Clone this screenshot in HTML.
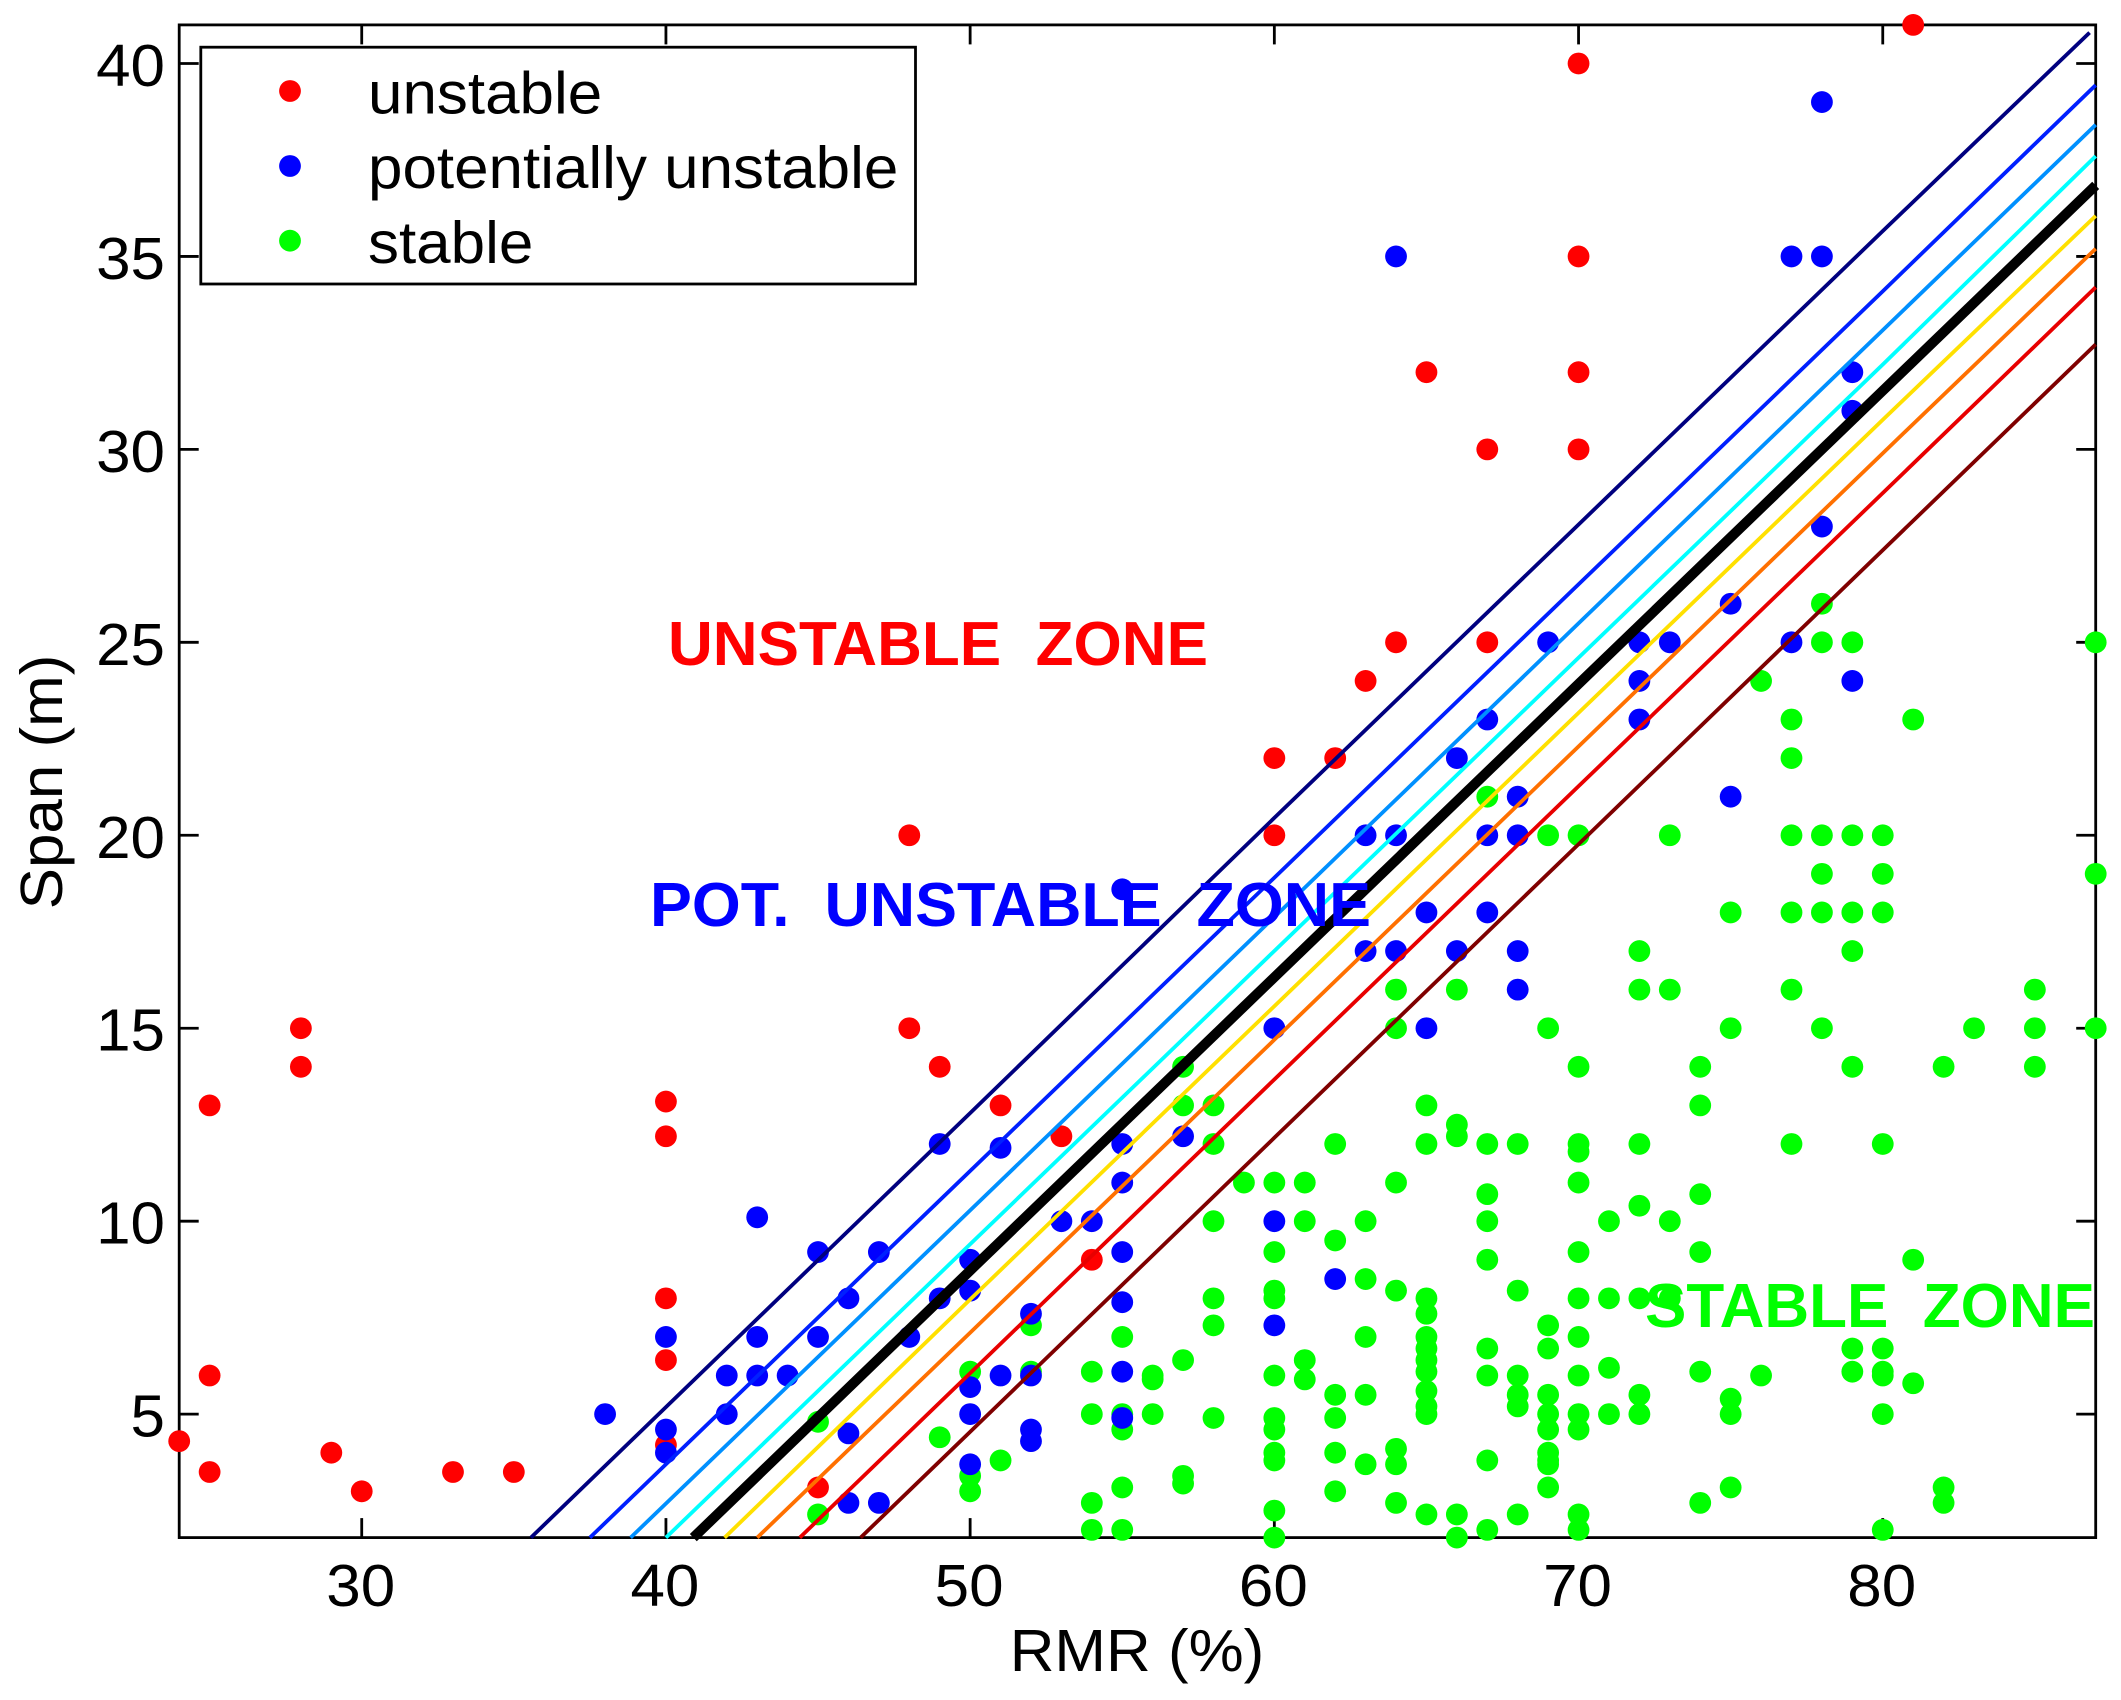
<!DOCTYPE html>
<html lang="en">
<head>
<meta charset="utf-8">
<title>Span vs RMR stability chart</title>
<style>
html,body{margin:0;padding:0;background:#fff;}
svg{display:block;}
text{font-family:"Liberation Sans",sans-serif;white-space:pre;}
</style>
</head>
<body>
<svg id="chart" xmlns="http://www.w3.org/2000/svg" width="2121" height="1700" viewBox="0 0 2121 1700"></svg>
<script>
const xTickLabels = [30, 40, 50, 60, 70, 80];
const yTickLabels = [5, 10, 15, 20, 25, 30, 35, 40];

const unstableRmr = [24, 25, 25, 25, 28, 28, 29, 30, 33, 35, 40, 40, 40, 40, 40, 45, 48, 48, 49, 51, 53, 54, 60, 60, 62, 63, 64, 65, 67, 67, 70, 70, 70, 70, 81];
const unstableSpan = [4.3, 3.5, 6, 13, 14, 15, 4, 3, 3.5, 3.5, 4.2, 6.4, 8, 12.2, 13.1, 3.1, 15, 20, 14, 13, 12.2, 9, 20, 22, 22, 24, 25, 32, 25, 30, 30, 32, 35, 40, 41];

const potentialRmr = [38, 40, 40, 40, 42, 42, 43, 43, 43, 44, 45, 45, 46, 46, 46, 47, 47, 48, 49, 49, 50, 50, 50, 50, 50, 51, 51, 52, 52, 52, 52, 53, 54, 55, 55, 55, 55, 55, 55, 55, 57, 60, 60, 60, 62, 63, 63, 64, 64, 64, 65, 65, 66, 66, 67, 67, 67, 68, 68, 68, 68, 69, 72, 72, 72, 73, 75, 75, 77, 77, 78, 78, 78, 79, 79, 79];
const potentialSpan = [5, 4.6, 4, 7, 6, 5, 10.1, 7, 6, 6, 9.2, 7, 8, 4.5, 2.7, 9.2, 2.7, 7, 12, 8, 9, 8.2, 5.7, 5, 3.7, 11.9, 6, 7.6, 6, 4.6, 4.3, 10, 10, 12, 11, 9.2, 7.9, 6.1, 4.9, 18.6, 12.2, 15, 10, 7.3, 8.5, 17, 20, 17, 20, 35, 18, 15, 17, 22, 23, 20, 18, 21, 20, 17, 16, 25, 25, 24, 23, 25, 26, 21, 35, 25, 39, 35, 28, 32, 31, 24];

const stableRmr = [
  45, 45, 49, 50, 50, 50, 51, 52, 52,
  67, 78, 78, 79, 87, 76, 77, 81, 77,
  69, 70, 73, 77, 78, 79, 80,
  78, 80, 87,
  75, 77, 78, 79, 80,
  72, 79,
  64, 66, 72, 73, 77, 85,
  64, 69, 75, 78, 83, 85, 87,
  57, 70, 74, 79, 82, 85,
  57, 58, 65, 74,
  66, 66,
  58, 62, 65, 67, 68, 70, 72, 77, 80, 70,
  59, 60, 61, 64, 70,
  67, 74, 72,
  58, 61, 63, 67, 71, 73,
  62, 60, 70, 74, 67, 81,
  63, 60, 64, 68,
  58, 60, 65, 70, 71, 72, 73,
  65, 58, 69, 55, 63, 65, 70,
  67, 69, 65, 79, 80,
  57, 61, 65,
  71, 54, 74, 79, 80, 65,
  56, 60, 67, 68, 70, 76, 80,
  56, 61, 81, 65,
  62, 63, 68, 69, 72, 75,
  65, 68,
  54, 56, 65, 69, 70, 71, 72, 75, 80,
  58, 62, 60, 55,
  55, 60, 69, 70,
  64, 62, 60, 69,
  67, 60, 69, 63, 64, 69,
  57, 57, 55, 69, 75, 82, 62,
  54, 64, 74, 82, 60,
  65, 66, 68, 70,
  54, 55, 67, 70, 80,
  60, 66
];
const stableSpan = [
  4.8, 2.4, 4.4, 6.1, 3.4, 3, 3.8, 7.3, 6.1,
  21, 26, 25, 25, 25, 24, 23, 23, 22,
  20, 20, 20, 20, 20, 20, 20,
  19, 19, 19,
  18, 18, 18, 18, 18,
  17, 17,
  16, 16, 16, 16, 16, 16,
  15, 15, 15, 15, 15, 15, 15,
  14, 14, 14, 14, 14, 14,
  13, 13, 13, 13,
  12.5, 12.2,
  12, 12, 12, 12, 12, 12, 12, 12, 12, 11.8,
  11, 11, 11, 11, 11,
  10.7, 10.7, 10.4,
  10, 10, 10, 10, 10, 10,
  9.5, 9.2, 9.2, 9.2, 9, 9,
  8.5, 8.2, 8.2, 8.2,
  8, 8, 8, 8, 8, 8, 8,
  7.6, 7.3, 7.3, 7, 7, 7, 7,
  6.7, 6.7, 6.7, 6.7, 6.7,
  6.4, 6.4, 6.4,
  6.2, 6.1, 6.1, 6.1, 6.1, 6.1,
  6, 6, 6, 6, 6, 6, 6,
  5.9, 5.9, 5.8, 5.6,
  5.5, 5.5, 5.5, 5.5, 5.5, 5.4,
  5.2, 5.2,
  5, 5, 5, 5, 5, 5, 5, 5, 5,
  4.9, 4.9, 4.9, 5,
  4.6, 4.6, 4.6, 4.6,
  4.1, 4, 4, 4,
  3.8, 3.8, 3.8, 3.7, 3.7, 3.7,
  3.4, 3.2, 3.1, 3.1, 3.1, 3.1, 3,
  2.7, 2.7, 2.7, 2.7, 2.5,
  2.4, 2.4, 2.4, 2.4,
  2, 2, 2, 2, 2,
  1.8, 1.8
];

const navyRmr = [35.56, 50, 60, 70, 80, 86.8];
const navySpan = [1.8, 12.8, 20.45, 28.05, 35.66, 40.8];
const blueRmr = [37.5, 50, 60, 70, 80, 87];
const blueSpan = [1.8, 11.3, 18.9, 26.5, 34.1, 39.44];
const azureRmr = [38.84, 50, 60, 70, 80, 87];
const azureSpan = [1.8, 10.28, 17.88, 25.49, 33.09, 38.41];
const cyanRmr = [40, 50, 60, 70, 80, 87];
const cyanSpan = [1.8, 9.4, 17, 24.6, 32.2, 37.6];
const blackRmr = [40.9, 50, 60, 70, 80, 87];
const blackSpan = [1.8, 8.72, 16.32, 23.92, 31.52, 36.84];
const yellowRmr = [41.93, 50, 60, 70, 80, 87];
const yellowSpan = [1.8, 7.97, 15.57, 23.17, 30.77, 36.05];
const orangeRmr = [43, 50, 60, 70, 80, 87];
const orangeSpan = [1.8, 7.11, 14.7, 22.3, 29.9, 35.2];
const redRmr = [44.4, 50, 60, 70, 80, 87];
const redSpan = [1.8, 6.06, 13.67, 21.27, 28.87, 34.2];
const maroonRmr = [46.4, 50, 60, 70, 80, 87];
const maroonSpan = [1.8, 4.54, 12.16, 19.77, 27.39, 32.72];

const NS = 'http://www.w3.org/2000/svg';
const svg = document.getElementById('chart');
const plotLeft = 179.2, plotRight = 2095.7, plotTop = 24.9, plotBottom = 1537.6;
const xMin = 24, xMax = 87, yMin = 1.8, yMax = 41;
const dotRadius = 10.9;
const labelFont = 59;
const labelStretch = 1.05;

function xScale(v) { return plotLeft + (v - xMin) * (plotRight - plotLeft) / (xMax - xMin); }
function yScale(v) { return plotBottom - (v - yMin) * (plotBottom - plotTop) / (yMax - yMin); }

function make(tag, attrs, parent) {
  const el = document.createElementNS(NS, tag);
  for (const k in attrs) el.setAttribute(k, attrs[k]);
  (parent || svg).appendChild(el);
  return el;
}

function stretched(x, y) { return 'translate(' + x + ' ' + y + ') scale(' + labelStretch + ' 1)'; }

/* axes frame */
const frame = make('rect', { x: plotLeft, y: plotTop, width: plotRight - plotLeft, height: plotBottom - plotTop, fill: 'none', stroke: '#000', 'stroke-width': 2.8 });



/* x ticks */
xTickLabels.forEach(function (t) {
  const x = xScale(t);
  const tickB = make('line', { x1: x, x2: x, y1: plotBottom, y2: plotBottom - 19.5, stroke: '#000', 'stroke-width': 2.8 });
  
  
  const tickT = make('line', { x1: x, x2: x, y1: plotTop, y2: plotTop + 19.5, stroke: '#000', 'stroke-width': 2.8 });
  
  
  const lab = make('text', { transform: stretched(x - 1, 1606), 'text-anchor': 'middle', 'font-size': labelFont, fill: '#000' });
  lab.textContent = String(t);
  
  
});

/* y ticks */
yTickLabels.forEach(function (t) {
  const y = yScale(t);
  const tickL = make('line', { x1: plotLeft, x2: plotLeft + 19.5, y1: y, y2: y, stroke: '#000', 'stroke-width': 2.8 });
  
  
  const tickR = make('line', { x1: plotRight, x2: plotRight - 19.5, y1: y, y2: y, stroke: '#000', 'stroke-width': 2.8 });
  
  
  const lab = make('text', { transform: stretched(165, y + 22.5), 'text-anchor': 'end', 'font-size': labelFont, fill: '#000' });
  lab.textContent = String(t);
  
  
});

/* axis titles */
const xTitle = make('text', { transform: stretched(1137, 1671), 'text-anchor': 'middle', 'font-size': labelFont, fill: '#000' });
xTitle.textContent = 'RMR (%)';


const yTitle = make('text', { transform: 'translate(62 782) rotate(-90) scale(' + labelStretch + ' 1)', 'text-anchor': 'middle', 'font-size': labelFont, fill: '#000' });
yTitle.textContent = 'Span (m)';



/* points */
function drawDots(rmr, span, color, name) {
  rmr.forEach(function (r, i) {
    const d = make('circle', { cx: xScale(r), cy: yScale(span[i]), r: dotRadius, fill: color });
    
    
  });
}
drawDots(stableRmr, stableSpan, '#00ff00', 'stable-point');
drawDots(unstableRmr, unstableSpan, '#ff0000', 'unstable-point');
drawDots(potentialRmr, potentialSpan, '#0000ff', 'potentially-unstable-point');

/* stability limit lines */
function drawLine(rmr, span, color, width, name) {
  const pts = rmr.map(function (r, i) { return xScale(r).toFixed(1) + ',' + yScale(span[i]).toFixed(1); }).join(' ');
  const l = make('polyline', { points: pts, fill: 'none', stroke: color, 'stroke-width': width, 'stroke-linejoin': 'round' });
  
  
}
drawLine(navyRmr, navySpan, '#00007f', 3.8, 'limit-line-navy');
drawLine(blueRmr, blueSpan, '#0020ff', 3.8, 'limit-line-blue');
drawLine(azureRmr, azureSpan, '#0090ff', 3.8, 'limit-line-azure');
drawLine(cyanRmr, cyanSpan, '#00ffff', 3.8, 'limit-line-cyan');
drawLine(yellowRmr, yellowSpan, '#ffe000', 3.8, 'limit-line-yellow');
drawLine(orangeRmr, orangeSpan, '#ff7000', 3.8, 'limit-line-orange');
drawLine(redRmr, redSpan, '#e80000', 3.8, 'limit-line-red');
drawLine(maroonRmr, maroonSpan, '#7f0000', 3.8, 'limit-line-maroon');
drawLine(blackRmr, blackSpan, '#000000', 10, 'limit-line-black');

/* zone labels */
function zone(txt, x, y, w, color, name) {
  const t = make('text', { x: x, y: y, 'font-size': 62, 'font-weight': 'bold', fill: color, textLength: w, lengthAdjust: 'spacingAndGlyphs' });
  t.setAttribute('xml:space', 'preserve');
  t.textContent = txt;
  
  
}
zone('UNSTABLE  ZONE', 668, 665, 540, '#ff0000', 'unstable-zone-label');
zone('POT.  UNSTABLE  ZONE', 650, 926, 721, '#0000ff', 'potentially-unstable-zone-label');
zone('STABLE  ZONE', 1645, 1327, 450, '#00ff00', 'stable-zone-label');

/* legend */
const legendBox = make('rect', { x: 200.8, y: 47.2, width: 714.7, height: 236.8, fill: '#fff', stroke: '#000', 'stroke-width': 2.8 });


const legendLabels = ['unstable', 'potentially unstable', 'stable'];
const legendColors = ['#ff0000', '#0000ff', '#00ff00'];
const legendDotY = [91, 166, 240.7];
const legendTextY = [113.5, 188, 263];
legendLabels.forEach(function (txt, i) {
  const d = make('circle', { cx: 290, cy: legendDotY[i], r: dotRadius, fill: legendColors[i] });
  
  
  const t = make('text', { transform: stretched(368, legendTextY[i]), 'font-size': labelFont, fill: '#000' });
  t.textContent = txt;
  
  
});
</script>
</body>
</html>
